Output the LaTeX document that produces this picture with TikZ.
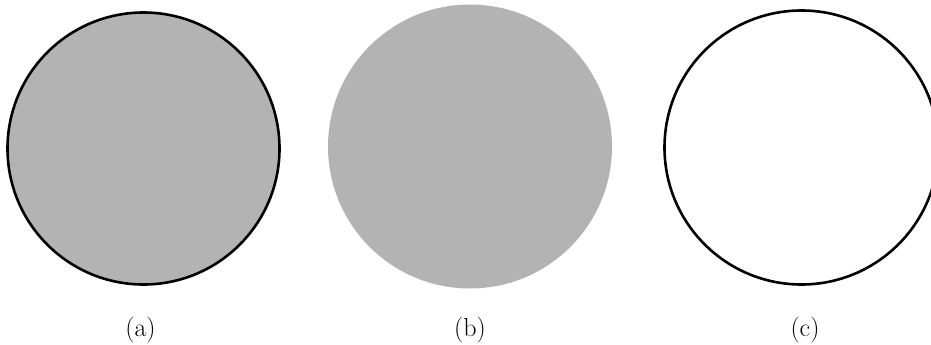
\documentclass[tikz,border=0pt]{standalone}
\usepackage{fontspec}
\begin{document}
\begin{tikzpicture}[x=1pt,y=-1pt,
  disc/.style={circle,inner sep=0pt,outer sep=0pt},
  lbl/.style={font=\fontsize{26}{31}\selectfont,anchor=base}]
\useasboundingbox (0,0) rectangle (931,345);
\clip (0,0) rectangle (931,345);
\definecolor{discgray}{RGB}{179,179,179}
\node[disc,fill=discgray,draw=black,line width=2.6pt,minimum size=272pt] (a) at (143.5,148.5) {};
\node[disc,fill=discgray,minimum size=284pt] (b) at (470,146.5) {};
\node[disc,draw=black,line width=2.6pt,minimum size=274pt] (c) at (801.5,147.5) {};
\node[lbl] (la) at (140.5,336) {(a)};
\node[lbl] (lb) at (470,336) {(b)};
\node[lbl] (lc) at (805,336) {(c)};
\end{tikzpicture}
\end{document}
